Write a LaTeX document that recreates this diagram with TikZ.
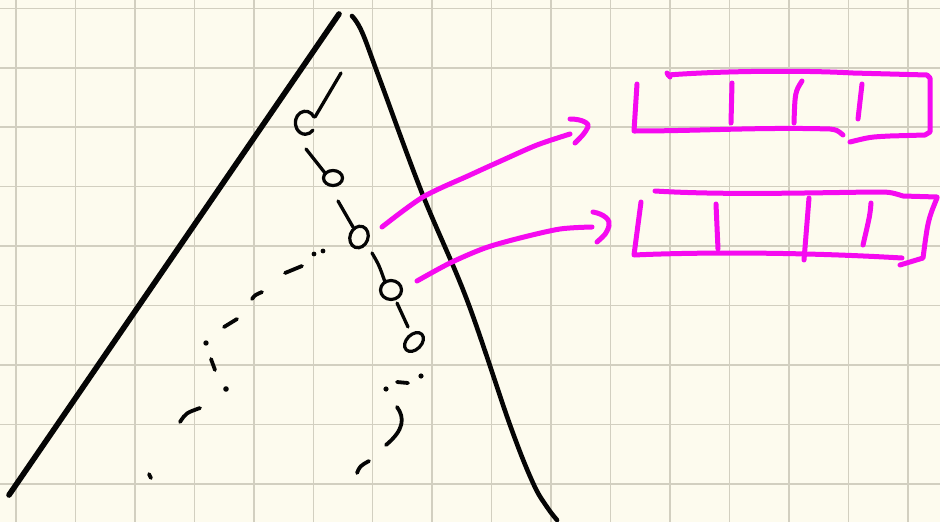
\documentclass[tikz,border=0pt]{standalone}
\usetikzlibrary{shapes.geometric,calc}
\definecolor{paper}{RGB}{253,251,238}
\definecolor{gridc}{RGB}{210,207,192}
\definecolor{ink}{RGB}{5,5,5}
\definecolor{hotpink}{RGB}{245,10,240}
\tikzset{
  inkline/.style={draw=ink, line width=3.3pt, line cap=round, line join=round},
  dashbit/.style={draw=ink, line width=3.8pt, line cap=round},
  inkdot/.style={fill=ink},
  vertex/.style={ellipse, draw=ink, line width=3.2pt, inner sep=0pt},
  pinkline/.style={draw=hotpink, line width=5pt, line cap=round, line join=round},
  gridline/.style={draw=gridc, line width=1.5pt}
}
\begin{document}
\begin{tikzpicture}[x=1pt,y=-1pt]
  % paper and squared grid
  \fill[paper] (0,0) rectangle (940,522);
  \useasboundingbox (0,0) rectangle (940,522);
  \foreach \i in {0,...,15} \draw[gridline] ({16+59.45*\i},0) -- ({16+59.45*\i},522);
  \foreach \j in {0,...,8} \draw[gridline] (0,{8.3+59.45*\j}) -- (940,{8.3+59.45*\j});

  % the big tree outline
  \draw[draw=ink, line width=5.6pt, line cap=round] (339,14) -- (9,495);
  \draw[draw=ink, line width=4.6pt, line cap=round] plot[smooth, tension=0.6] coordinates
    {(352,16) (362,32) (380,80) (422,193) (467,300) (510,425) (533,483) (547,507) (557,520)};

  % search path down the tree
  \coordinate (top) at (341,73);
  \node[vertex, draw=none, minimum width=22pt, minimum height=24pt] (v1) at (304,127) {};
  \draw[inkline] ($(v1.center)+(10,-10)$) arc[start angle=330, end angle=40, x radius=10, y radius=11.5];
  \node[vertex, minimum width=19pt, minimum height=15pt] (v2) at (333,178) {};
  \node[vertex, minimum width=18pt, minimum height=22pt, rotate=-20] (v3) at (359,237) {};
  \node[vertex, minimum width=21pt, minimum height=19pt] (v4) at (391,290) {};
  \node[vertex, minimum width=22pt, minimum height=15pt, rotate=45] (v5) at (414,342) {};

  \draw[inkline] (top) -- ($(v1.center)+(11,-10)$);
  \draw[inkline] ($(v1.center)+(2,22)$) -- ($(v2.center)+(-8,-5)$);
  \draw[inkline] ($(v2.center)+(5,23)$) -- ($(v3.center)+(-6,-10)$);
  \draw[inkline] ($(v3.center)+(13,16)$) .. controls ($(v3.center)+(20,28)$) .. ($(v4.center)+(-6,-8)$);
  \draw[inkline] ($(v4.center)+(6,13)$) -- ($(v5.center)+(-6,-15)$);

  % dashed branch to the left
  \fill[inkdot] (323,251) circle (2.4pt);
  \fill[inkdot] (314,254) circle (2.4pt);
  \draw[dashbit] (285,273) -- (302,266);
  \draw[dashbit] (252,299) .. controls (255,295) .. (262,292);
  \draw[dashbit] (224,327) -- (237,319);
  \fill[inkdot] (206,343) circle (2.7pt);
  \draw[dashbit] (211,359) -- (215,370);
  \fill[inkdot] (226,389) circle (2.8pt);
  \draw[dashbit] (180,422) .. controls (186,413) .. (200,408);
  \draw[dashbit] (149,474) -- (151,478);

  % dashed branch to the right
  \fill[inkdot] (421,376) circle (2.6pt);
  \draw[dashbit] (397,382) -- (408,383);
  \fill[inkdot] (386,389) circle (2.6pt);
  \draw[dashbit] (397,407) .. controls (405,418) and (404,430) .. (386,445);
  \draw[dashbit] (357,473) .. controls (360,466) .. (369,461);

  % arrows to the arrays
  \coordinate (a1s) at ($(v3.center)+(23,-10)$);
  \coordinate (a2s) at ($(v4.center)+(26,-9)$);
  \draw[pinkline] plot[smooth] coordinates {(a1s) (423,197) (470,175) (503,160) (537,145) (570,134)};
  \draw[pinkline] (570,119) .. controls (583,119) and (590,124) .. (588,127) .. controls (584,134) .. (575,143);
  \draw[pinkline] plot[smooth] coordinates {(a2s) (450,263) (485,248) (520,238) (560,229) (592,227)};
  \draw[pinkline] (593,212) .. controls (604,214) and (611,220) .. (609,226) .. controls (606,234) .. (597,242);

  % first array
  \draw[pinkline] (667,73) -- (670,77);
  \draw[pinkline] (668,75) .. controls (720,71) and (800,70) .. (853,73) -- (927,75)
    -- (930,78) -- (930,132) -- (925,135) -- (890,136) .. controls (870,137) .. (850,142);
  \draw[pinkline] (637,84) -- (634,131) .. controls (700,131) and (760,127) .. (830,129)
    .. controls (837,130) .. (843,135);
  \draw[pinkline] (732,83) -- (731,123);
  \draw[pinkline] (802,81) .. controls (795,92) .. (794,123);
  \draw[pinkline] (862,84) -- (858,119);

  % second array
  \draw[pinkline] (655,191) .. controls (720,195) and (800,193) .. (873,192)
    .. controls (890,192) .. (903,196) -- (937,197);
  \draw[pinkline] (937,198) .. controls (928,220) .. (923,258) -- (900,265);
  \draw[pinkline] (641,202) -- (634,255) .. controls (700,252) and (800,252) .. (902,258);
  \draw[pinkline] (716,204) -- (718,249);
  \draw[pinkline] (809,198) -- (804,260);
  \draw[pinkline] (871,203) .. controls (870,215) .. (863,245);
\end{tikzpicture}
\end{document}
